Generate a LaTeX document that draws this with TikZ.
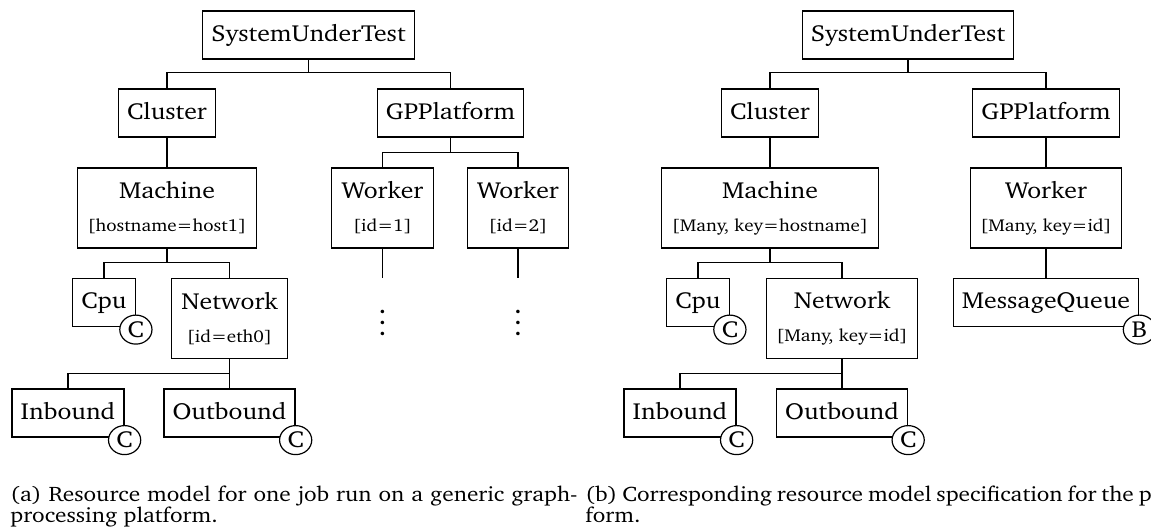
\documentclass[tikz,border=0pt]{standalone}
\usepackage[T1]{fontenc}
\usepackage{charter}
\newcommand{\attrfont}{\fontsize{8.6}{16.5}\selectfont}
\begin{document}
\begin{tikzpicture}[x=0.5pt,y=-0.5pt,
  wide/.style={xscale=1.11},
  box/.style={wide, draw, line width=0.6pt, inner xsep=3.9pt, inner ysep=0pt,
    font=\fontsize{11.6}{14}\selectfont, text height=8.8pt, text depth=2.4pt,
    minimum height=24pt},
  tallbox/.style={wide, draw, line width=0.6pt, inner xsep=4.5pt, inner ysep=0pt,
    align=center, minimum height=40pt, font=\fontsize{11.6}{16.5}\selectfont},
  badge/.style={wide, draw, line width=0.6pt, circle, fill=white, inner sep=0pt,
    minimum size=14.5pt, font=\fontsize{11.6}{14}\selectfont},
  link/.style={line width=0.6pt},
  dots/.style={inner sep=0pt, scale=1.4},
  caption/.style={wide, anchor=north west, inner sep=0pt, align=left,
    font=\fontsize{10.5}{10.5}\selectfont}]
\useasboundingbox (0,0) rectangle (1151,526);
\clip (0,0) rectangle (1151,526);

% ---------- (a) resource model of one job ----------
\node[box] (sutA) at (308.5,35) {SystemUnderTest};
\node[box] (clA) at (167,113) {Cluster};
\node[box] (gpA) at (450.5,113) {GPPlatform};
\node[tallbox] (maA) at (167,208) {Machine\\{\attrfont[hostname=host1]}};
\node[tallbox] (w1) at (382.5,208) {Worker\\{\attrfont[id=1]}};
\node[tallbox] (w2) at (518,208) {Worker\\{\attrfont[id=2]}};
\node[box] (cpuA) at (104,302.5) {Cpu};
\node[tallbox] (netA) at (229.5,318.5) {Network\\{\attrfont[id=eth0]}};
\node[box] (inA) at (68,413) {Inbound};
\node[box] (outA) at (229.5,413) {Outbound};

\node[badge] (cpuAc) at ([yshift=-1.25pt]cpuA.south east) {C};
\node[badge] (inAc) at ([yshift=-1.25pt]inA.south east) {C};
\node[badge] (outAc) at ([yshift=-1.25pt]outA.south east) {C};

\coordinate (w1end) at (382.5,278);
\coordinate (w2end) at (518,278);
\node[dots] (w1dots) at (382.5,315) {$\vdots$};
\node[dots] (w2dots) at (518,315) {$\vdots$};

\draw[link] (sutA.south) -- ++(0,13) -| (clA.north);
\draw[link] (sutA.south) -- ++(0,13) -| (gpA.north);
\draw[link] (clA.south) -- (maA.north);
\draw[link] (gpA.south) -- ++(0,15) -| (w1.north);
\draw[link] (gpA.south) -- ++(0,15) -| (w2.north);
\draw[link] (w1.south) -- (w1end);
\draw[link] (w2.south) -- (w2end);
\draw[link] (maA.south) -- ++(0,14) -| (cpuA.north);
\draw[link] (maA.south) -- ++(0,14) -| (netA.north);
\draw[link] (netA.south) -- ++(0,14) -| (inA.north);
\draw[link] (netA.south) -- ++(0,14) -| (outA.north);

% ---------- (b) resource model specification ----------
\node[box] (sutB) at (908,35) {SystemUnderTest};
\node[box] (clB) at (770,113) {Cluster};
\node[box] (gpB) at (1046,113) {GPPlatform};
\node[tallbox] (maB) at (770,208) {Machine\\{\attrfont[Many, key=hostname]}};
\node[tallbox] (wB) at (1046,208) {Worker\\{\attrfont[Many, key=id]}};
\node[box] (cpuB) at (698,302.5) {Cpu};
\node[tallbox] (netB) at (842,318.5) {Network\\{\attrfont[Many, key=id]}};
\node[box] (mqB) at (1046,302.5) {MessageQueue};
\node[box] (inB) at (680,413) {Inbound};
\node[box] (outB) at (842,413) {Outbound};

\node[badge] (cpuBc) at ([yshift=-1.25pt]cpuB.south east) {C};
\node[badge] (mqBc) at ([yshift=-1.25pt]mqB.south east) {B};
\node[badge] (inBc) at ([yshift=-1.25pt]inB.south east) {C};
\node[badge] (outBc) at ([yshift=-1.25pt]outB.south east) {C};

\draw[link] (sutB.south) -- ++(0,13) -| (clB.north);
\draw[link] (sutB.south) -- ++(0,13) -| (gpB.north);
\draw[link] (clB.south) -- (maB.north);
\draw[link] (gpB.south) -- (wB.north);
\draw[link] (wB.south) -- (mqB.north);
\draw[link] (maB.south) -- ++(0,14) -| (cpuB.north);
\draw[link] (maB.south) -- ++(0,14) -| (netB.north);
\draw[link] (netB.south) -- ++(0,14) -| (inB.north);
\draw[link] (netB.south) -- ++(0,14) -| (outB.north);

% ---------- sub-captions ----------
\node[caption] (capA) at (10,486)
  {\makebox[255.5pt][s]{(a) Resource model for one job run on a generic graph-}\\processing platform.};
\node[caption] (capB) at (585,486)
  {\makebox[266pt][s]{(b) Corresponding resource model specification for the plat-}\\form.};
\end{tikzpicture}
\end{document}
